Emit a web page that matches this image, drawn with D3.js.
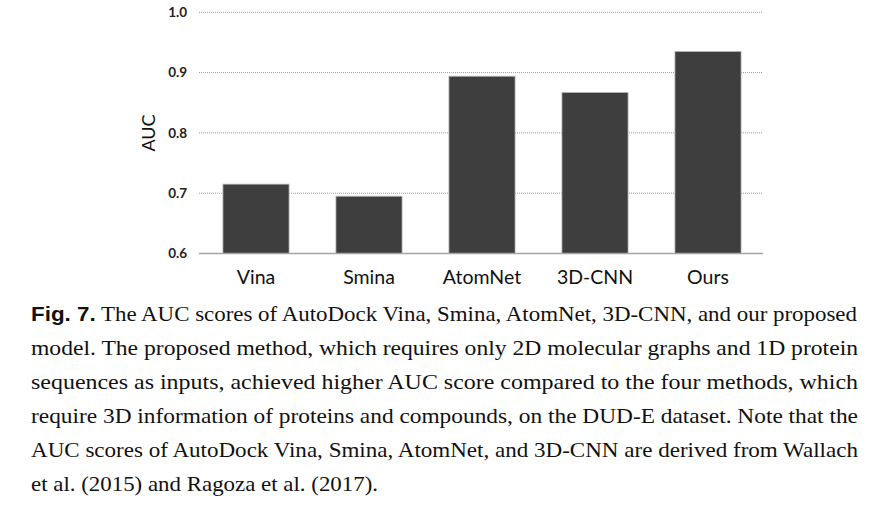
<!DOCTYPE html>
<html><head><meta charset="utf-8">
<script src="https://cdn.jsdelivr.net/npm/d3@7"></script>
<style>html,body{margin:0;padding:0;background:#fff;}svg{display:block;}</style>
</head><body>
<svg id="chart" width="892" height="506"></svg>
<script>
const categories = ["Vina", "Smina", "AtomNet", "3D-CNN", "Ours"];
const aucValues = [0.715, 0.695, 0.894, 0.867, 0.935];
const yTicks = [0.6, 0.7, 0.8, 0.9, 1.0];
const yLabel = "AUC";
const captionBold = "Fig. 7.";
const captionLines = [
  " The AUC scores of AutoDock Vina, Smina, AtomNet, 3D-CNN, and our proposed",
  "model. The proposed method, which requires only 2D molecular graphs and 1D protein",
  "sequences as inputs, achieved higher AUC score compared to the four methods, which",
  "require 3D information of proteins and compounds, on the DUD-E dataset. Note that the",
  "AUC scores of AutoDock Vina, Smina, AtomNet, and 3D-CNN are derived from Wallach",
  "et al. (2015) and Ragoza et al. (2017)."
];

const svg = d3.select("#chart");
const x = d3.scaleBand().domain(categories).range([199.5, 764.5]).paddingInner(0.415).paddingOuter(0.2075);
const y = d3.scaleLinear().domain([0.6, 1.0]).range([253.5, 12.3]);
const left = 199, right = 763;

// gridlines
svg.append("g").selectAll("line").data(yTicks.filter(t => t > 0.6)).join("line")
  .attr("x1", left).attr("x2", right)
  .attr("y1", d => y(d)).attr("y2", d => y(d))
  .attr("stroke", "#9a9a9a").attr("stroke-width", 1).attr("stroke-dasharray", "1,1");

// y axis labels
const yAxis = d3.axisLeft(y).tickValues(yTicks).tickFormat(d3.format(".1f")).tickSize(0).tickPadding(0);
const yg = svg.append("g").attr("transform", "translate(187,0)").call(yAxis);
yg.select(".domain").remove();
yg.selectAll("text").attr("font-family", "Lato, 'Open Sans', sans-serif").attr("font-size", 13.5)
  .attr("font-weight", 700).attr("fill", "#222");

// bars
svg.append("g").selectAll("rect").data(categories).join("rect")
  .attr("x", d => x(d)).attr("width", x.bandwidth())
  .attr("y", (d, i) => y(aucValues[i])).attr("height", (d, i) => y(0.6) - y(aucValues[i]))
  .attr("fill", "#3e3e3e").attr("stroke", "#b5b5b5").attr("stroke-width", 0.8);

// baseline
svg.append("line").attr("x1", left).attr("x2", right).attr("y1", y(0.6)).attr("y2", y(0.6))
  .attr("stroke", "#a5a5a5").attr("stroke-width", 1.6);

// x axis labels
const xAxis = d3.axisBottom(x).tickSize(0).tickPadding(0);
const xg = svg.append("g").attr("transform", "translate(0,270)").call(xAxis);
xg.select(".domain").remove();
xg.selectAll("text").attr("font-family", "Lato, 'Open Sans', sans-serif").attr("font-size", 19.5)
  .attr("fill", "#111").attr("dy", "0.71em");

// y label
svg.append("text").attr("transform", "translate(155,133) rotate(-90)")
  .attr("text-anchor", "middle").attr("font-family", "Lato, 'Open Sans', sans-serif")
  .attr("font-size", 18).attr("fill", "#111").text(yLabel);

// caption
const lineWidths = [826, 827, 827, 827, 827, 347];
captionLines.forEach((ln, i) => {
  const t = svg.append("text").attr("x", 31).attr("y", 321 + i * 34)
    .attr("font-family", "'Liberation Serif', 'Times New Roman', serif").attr("font-size", 21.5)
    .attr("fill", "#111")
    .attr("textLength", lineWidths[i]).attr("lengthAdjust", "spacingAndGlyphs");
  if (i === 0) {
    t.append("tspan").attr("font-family", "'Liberation Sans', Arial, sans-serif").attr("font-weight", 700)
      .attr("font-size", 21).text(captionBold);
  }
  t.append("tspan").text(ln);
});
</script>
</body></html>
